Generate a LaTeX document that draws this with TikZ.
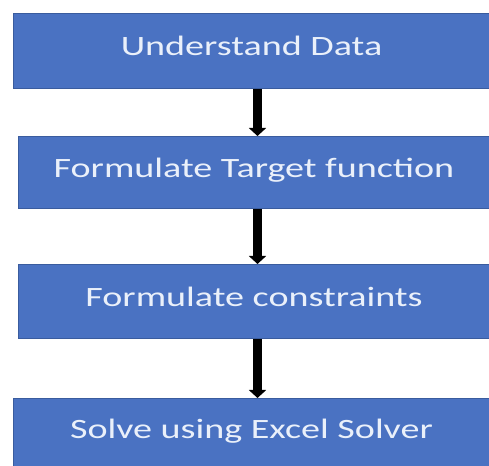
\documentclass[tikz,border=0pt]{standalone}
\usepackage{fontspec}
\setmainfont{Carlito}
\usetikzlibrary{arrows.meta}
\definecolor{boxblue}{HTML}{4A72C2}
\definecolor{boxedge}{HTML}{3A5C9E}
\definecolor{txt}{HTML}{EAF0FA}
\tikzset{
  stepbox/.style={draw=boxedge, line width=1pt, fill=boxblue, anchor=north west, inner sep=0pt, text=txt,
    font=\fontsize{28}{30}\selectfont, text height=18pt, text depth=8pt},
  arr/.style={line width=9pt, -{Triangle[width=17pt,length=8pt]}, black}
}
\newcommand{\stretchtxt}[1]{\scalebox{1.36}[1]{#1}}
\begin{document}
\begin{tikzpicture}[x=1pt,y=1pt]
\useasboundingbox (0,0) rectangle (489,465);
\node[stepbox, minimum width=476pt, minimum height=75pt] (a) at (13,452) {\stretchtxt{Understand Data}};
\node[stepbox, minimum width=471pt, minimum height=72pt] (b) at (18,329) {\stretchtxt{Formulate Target function}};
\node[stepbox, minimum width=471pt, minimum height=74pt] (c) at (18,201) {\stretchtxt{Formulate constraints}};
\node[stepbox, minimum width=476pt, minimum height=68pt, text depth=5pt] (d) at (13,67) {\stretchtxt{Solve using Excel Solver}};
\draw[arr] ([xshift=6pt]a.south) -- ([xshift=3.5pt]b.north);
\draw[arr] ([xshift=3.5pt]b.south) -- ([xshift=3.5pt]c.north);
\draw[arr] ([xshift=3.5pt]c.south) -- ([xshift=6pt]d.north);
\end{tikzpicture}
\end{document}
